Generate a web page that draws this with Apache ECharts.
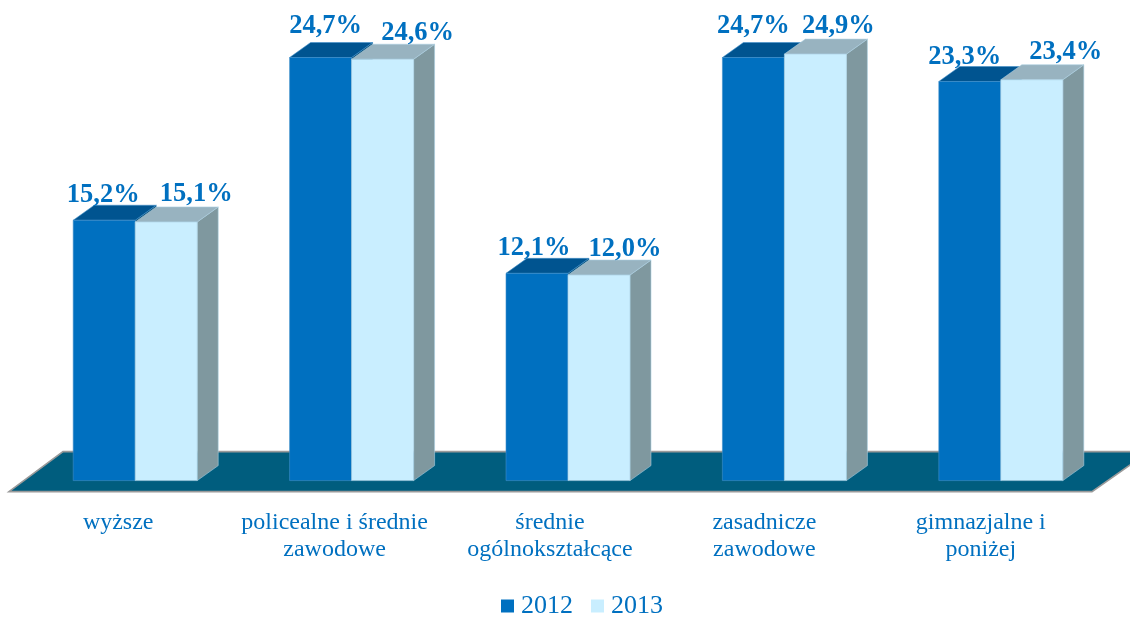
<!DOCTYPE html>
<html>
<head>
<meta charset="utf-8">
<style>
  html, body { margin: 0; padding: 0; background: #fff; }
  #chart { width: 1130px; height: 617px; }
</style>
</head>
<body>
<div id="chart"></div>
<script src="https://cdn.jsdelivr.net/npm/echarts@6/dist/echarts.min.js"></script>
<script>
var categories = [
  "wyższe",
  "policealne i średnie\nzawodowe",
  "średnie\nogólnokształcące",
  "zasadnicze\nzawodowe",
  "gimnazjalne i\nponiżej"
];
var values2012 = [15.2, 24.7, 12.1, 24.7, 23.3];
var values2013 = [15.1, 24.6, 12.0, 24.9, 23.4];

// the labels are not placed evenly in the picture, so nudge each one [x, y]
var nudge2012 = [[-1, 1], [5, -5], [-3, 1], [0, -5], [-5, 2]];
var nudge2013 = [[30, -2], [35, 0], [26, 0], [23, -2], [34, -2]];
// category labels sit left of their bars in the picture
var labelShift = [17, 17, 18, 20, 20];

var serif = '"Liberation Serif", serif';
var textBlue = "#0070c0";
var depthX = 21, depthY = 15;

function pct(v) {
  return v.toFixed(1).replace(".", ",") + "%";
}

// one box of the 3D bar: front, top and side faces plus the value label
function makeBarRender(side, nudge, colors) {
  return function (params, api) {
    var idx = api.value(0);
    var val = api.value(1);
    var top = api.coord([idx, val]);
    var base = api.coord([idx, 0]);
    var w = api.size([1, 0])[0] * 0.2865;
    var x0 = side < 0 ? top[0] - w : top[0];
    var x1 = x0 + w;
    var y0 = top[1];
    var y1 = base[1];
    var edge = { stroke: colors.edge, lineWidth: 0.6 };
    return {
      type: "group",
      children: [
        {
          type: "polygon",
          shape: { points: [[x1, y0], [x1 + depthX, y0 - depthY], [x1 + depthX, y1 - depthY], [x1, y1]] },
          style: Object.assign({ fill: colors.side }, edge)
        },
        {
          type: "polygon",
          shape: { points: [[x0, y0], [x0 + depthX, y0 - depthY], [x1 + depthX, y0 - depthY], [x1, y0]] },
          style: Object.assign({ fill: colors.top }, edge)
        },
        {
          type: "rect",
          shape: { x: x0, y: y0, width: w, height: y1 - y0 },
          style: Object.assign({ fill: colors.front }, edge)
        },
        {
          type: "text",
          z2: 10,
          style: {
            x: (x0 + x1) / 2 + nudge[params.dataIndex][0],
            y: y0 - 26 + nudge[params.dataIndex][1],
            text: pct(val),
            fill: textBlue,
            font: "bold 26.5px " + serif,
            align: "center",
            verticalAlign: "middle"
          }
        }
      ]
    };
  };
}

// floor plate follows the grid rectangle
function renderFloor(params, api) {
  var c = params.coordSys;
  var front = c.y + c.height + 11;
  var back = c.y + c.height - 29;
  var left = c.x;
  var right = c.x + c.width;
  return {
    type: "polygon",
    shape: { points: [[left - 18, front], [left + 36, back], [right + 40, back], [right - 17, front]] },
    style: { fill: "#005d7e", stroke: "#9a9a9a", lineWidth: 1.6 }
  };
}

var chart = echarts.init(document.getElementById("chart"), null, { renderer: "canvas" });

chart.setOption({
  animation: false,
  backgroundColor: "#fff",
  grid: { left: 27, top: 1, width: 1082, height: 479.6 },
  legend: {
    data: [
      { name: "2012", itemStyle: { color: "#0070c0" } },
      { name: "2013", itemStyle: { color: "#c9eeff" } }
    ],
    left: 496,
    top: 588,
    icon: "rect",
    itemWidth: 13,
    itemHeight: 13,
    itemGap: 18,
    textStyle: { fontFamily: serif, fontSize: 26, color: textBlue, padding: [0, 0, 0, 2] }
  },
  xAxis: {
    type: "category",
    data: categories.map(function (name, i) {
      return { value: name, textStyle: { padding: [0, labelShift[i] * 2, 0, 0] } };
    }),
    axisLine: { show: false },
    axisTick: { show: false },
    axisLabel: {
      interval: 0,
      margin: 29,
      fontFamily: serif,
      fontSize: 24,
      lineHeight: 27,
      color: textBlue,
      verticalAlign: "top"
    }
  },
  yAxis: { type: "value", min: 0, max: 28, show: false, splitLine: { show: false } },
  series: [
    {
      name: "floor",
      type: "custom",
      data: [[0, 0]],
      encode: { x: 0, y: 1 },
      renderItem: renderFloor,
      silent: true,
      z: 1
    },
    {
      name: "2012",
      type: "custom",
      data: values2012.map(function (v, i) { return [i, v]; }),
      encode: { x: 0, y: 1 },
      itemStyle: { color: "#0070c0" },
      renderItem: makeBarRender(-1, nudge2012, { front: "#0070c0", top: "#005490", side: "#00476e", edge: "#3f8fca" }),
      z: 2
    },
    {
      name: "2013",
      type: "custom",
      data: values2013.map(function (v, i) { return [i, v]; }),
      encode: { x: 0, y: 1 },
      itemStyle: { color: "#c9eeff" },
      renderItem: makeBarRender(1, nudge2013, { front: "#c9eeff", top: "#98b3c0", side: "#7f989f", edge: "#a9cfe0" }),
      z: 3
    }
  ]
});
</script>
</body>
</html>
